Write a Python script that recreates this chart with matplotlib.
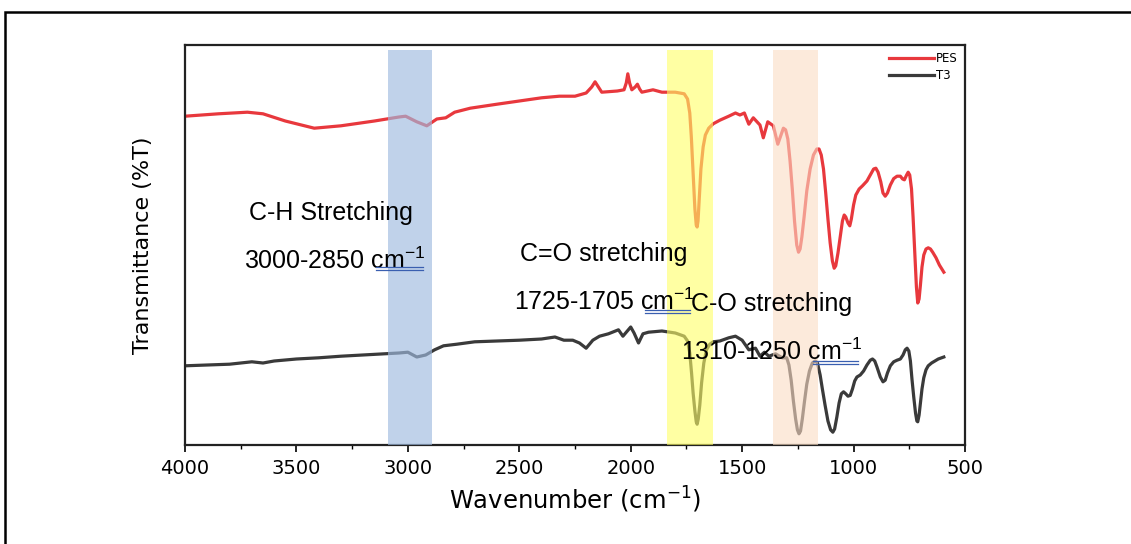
import matplotlib
matplotlib.use("Agg")
import matplotlib.pyplot as plt
from matplotlib.lines import Line2D
from matplotlib.patches import Rectangle

plt.rcParams['mathtext.default'] = 'regular'
ANN = ['Liberation Sans', 'DejaVu Sans']

# ---- data (wavenumber cm-1, transmittance a.u.) ----
pes_w = [4000, 3850, 3720, 3650, 3550, 3420, 3300, 3150, 3040, 3010, 2960, 2915, 2870, 2830, 2790,
         2720, 2600, 2500, 2400, 2320, 2250, 2200, 2175, 2160, 2145, 2130, 2060, 2030, 2020, 2013,
         2005, 1995, 1980, 1970, 1960, 1950, 1900, 1860, 1800, 1760, 1745, 1735, 1728, 1720, 1712,
         1706, 1702, 1698, 1692, 1685, 1675, 1665, 1650, 1630, 1600, 1560, 1530, 1510, 1490, 1470,
         1450, 1420, 1405, 1385, 1360, 1340, 1315, 1305, 1295, 1285, 1275, 1265, 1255, 1247, 1240,
         1232, 1222, 1210, 1195, 1180, 1165, 1155, 1145, 1135, 1125, 1115, 1105, 1095, 1087, 1080,
         1070, 1060, 1050, 1042, 1035, 1025, 1017, 1010, 1000, 990, 975, 960, 940, 925, 910,
         900, 890, 878, 868, 858, 848, 835, 820, 805, 790, 780, 772, 762, 755, 748,
         740, 733, 725, 718, 712, 706, 700, 693, 685, 675, 665, 655, 645, 630, 615, 595]
pes_t = [82.2, 82.8, 83.2, 82.8, 81.0, 79.2, 79.8, 81.0, 82.0, 82.2, 80.8, 79.8, 81.5, 81.8, 83.2,
         84.2, 85.2, 86.0, 86.8, 87.2, 87.2, 88.0, 89.5, 90.8, 89.5, 88.2, 88.5, 88.8, 90.5, 92.8,
         90.5, 88.8, 89.5, 90.2, 89.0, 88.2, 88.8, 88.2, 88.2, 87.8, 86.5, 83.0, 77.0, 68.0, 59.0,
         55.0, 54.5, 56.0, 62.0, 69.0, 74.5, 77.5, 79.2, 80.3, 81.2, 82.2, 83.0, 82.5, 83.0, 80.2,
         81.8, 80.0, 76.8, 80.8, 79.8, 75.2, 79.2, 78.8, 76.5, 71.0, 64.0, 56.0, 50.0, 48.2, 49.0,
         52.0, 57.0, 63.5, 69.0, 72.5, 74.0, 74.0, 72.5, 69.0, 63.0, 56.5, 50.5, 46.0, 44.2, 44.8,
         48.0, 52.0, 56.0, 57.5, 57.0, 55.5, 54.8, 56.5, 60.0, 62.5, 64.0, 64.8, 66.0, 67.5, 69.0,
         69.2, 68.2, 65.8, 63.0, 62.2, 63.0, 65.0, 66.6, 67.2, 67.2, 66.5, 66.3, 67.5, 68.2, 67.5,
         64.0, 57.0, 47.5, 39.5, 35.5, 36.5, 40.0, 44.5, 47.5, 49.0, 49.3, 49.0, 48.2, 46.8, 45.0, 43.2]

t3_w = [4000, 3900, 3800, 3700, 3650, 3600, 3500, 3400, 3300, 3200, 3100, 3040, 3000, 2960, 2920,
        2880, 2840, 2780, 2700, 2600, 2500, 2400, 2340, 2300, 2260, 2230, 2200, 2170, 2140, 2100,
        2055, 2035, 2000, 1985, 1965, 1945, 1920, 1860, 1800, 1760, 1745, 1735, 1727, 1720, 1712,
        1706, 1702, 1697, 1690, 1682, 1672, 1660, 1645, 1630, 1600, 1560, 1530, 1500, 1470, 1440,
        1420, 1400, 1380, 1350, 1320, 1300, 1290, 1280, 1270, 1260, 1252, 1245, 1238, 1230, 1220,
        1210, 1198, 1185, 1172, 1162, 1150, 1140, 1128, 1115, 1103, 1093, 1085, 1075, 1065, 1055,
        1045, 1035, 1025, 1015, 1005, 995, 985, 970, 955, 940, 925, 915, 905, 895, 880,
        868, 858, 848, 835, 820, 805, 790, 778, 768, 760, 752, 745, 738, 730, 722,
        716, 712, 706, 700, 693, 685, 675, 665, 650, 635, 620, 605, 595]
t3_t = [19.8, 20.0, 20.2, 20.8, 20.5, 21.0, 21.5, 21.8, 22.2, 22.5, 22.8, 23.0, 23.2, 22.0, 22.5,
        23.8, 24.8, 25.2, 25.8, 26.0, 26.2, 26.5, 27.0, 26.2, 26.2, 25.5, 24.2, 26.2, 27.2, 27.8,
        28.8, 27.2, 29.5, 28.0, 25.5, 27.8, 28.2, 28.5, 28.0, 27.2, 26.0, 23.0, 18.0, 13.0, 8.5,
        5.8, 5.2, 6.5, 10.0, 15.5, 20.5, 23.8, 25.2, 25.8, 26.0, 26.8, 27.2, 26.2, 23.8, 24.2,
        22.2, 23.2, 22.2, 22.8, 21.8, 21.8, 20.0, 16.2, 11.0, 6.5, 3.8, 2.8, 3.5, 6.5, 11.0,
        15.2, 18.5, 20.5, 21.0, 20.5, 17.5, 14.0, 10.0, 6.0, 3.8, 3.2, 4.0, 7.0, 10.5, 12.8,
        13.3, 12.8, 12.2, 12.4, 14.0, 16.0, 17.0, 17.5, 18.5, 20.0, 21.2, 21.5, 21.0, 19.5, 17.0,
        15.8, 16.2, 18.0, 19.8, 20.8, 21.2, 21.5, 22.5, 23.8, 24.2, 23.5, 21.0, 16.5, 12.0, 8.0,
        6.0, 5.8, 7.5, 10.5, 14.0, 16.8, 18.8, 19.8, 20.5, 21.0, 21.5, 21.8, 22.0]

series_names = ['PES', 'T3']
x_ticks = [4000, 3500, 3000, 2500, 2000, 1500, 1000, 500]
x_minor = [3750, 3250, 2750, 2250, 1750, 1250, 750]
bands = [(3090, 2890), (1835, 1630), (1360, 1160)]

fig = plt.figure(figsize=(11.31, 5.44), dpi=100)
# outer frame
fig.add_artist(Rectangle((5/1131, -0.05), 1.2, 1 - 12/544 + 0.05, transform=fig.transFigure,
                         fill=False, edgecolor='black', linewidth=1.8))

ax = fig.add_axes([185/1131, 1 - 445/544, 780/1131, 400/544])
ax.plot(pes_w, pes_t, color='#e8383d', lw=2.3, label=series_names[0], zorder=2,
        solid_joinstyle='round')
ax.plot(t3_w, t3_t, color='#3a3a3a', lw=2.3, label=series_names[1], zorder=2,
        solid_joinstyle='round')

band_colors = ['#9fbbe0', '#ffff66', '#fbdcc4']
band_alpha = [0.65, 0.6, 0.6]
for (a, b), c, al in zip(bands, band_colors, band_alpha):
    ax.axvspan(a, b, ymin=0, ymax=0.9875, color=c, alpha=al, lw=0, zorder=3)

ax.set_xlim(4000, 500)
ax.set_ylim(0, 100)
ax.set_xticks(x_ticks)
ax.set_xticks(x_minor, minor=True)
ax.set_yticks([])
ax.tick_params(axis='x', which='major', direction='out', length=5, width=1.2, labelsize=14, pad=5)
ax.tick_params(axis='x', which='minor', direction='out', length=3, width=1.0)
for s in ax.spines.values():
    s.set_linewidth(1.6)
    s.set_color('#222222')

ax.set_xlabel('Wavenumber (cm$^{-1}$)', fontsize=17.5, labelpad=5)
ax.set_ylabel('Transmittance (%T)', fontsize=16, labelpad=23)

ax.legend(loc='upper right', frameon=False, fontsize=8.5, handlelength=3.8,
          borderaxespad=0.2, labelspacing=0.35, handletextpad=0.2)

txt = dict(fontsize=18, family=ANN, ha='center', va='center', zorder=5)
ax.text(3345, 58, 'C-H Stretching', **txt)
ax.text(3327, 46, '3000-2850 cm$^{-1}$', **txt)
ax.text(2120, 47.8, 'C=O stretching', **txt)
ax.text(2120, 35.8, '1725-1705 cm$^{-1}$', **txt)
ax.text(1366, 35.2, 'C-O stretching', **txt)
ax.text(1366, 23.2, '1310-1250 cm$^{-1}$', **txt)

underlines = [(3143, 2932, 44.5), (1936, 1734, 33.75), (1182, 980, 21.0)]
for a, b, y in underlines:
    ax.add_line(Line2D([a, b], [y, y], color='#3a5fb0', lw=0.9, zorder=6))
    ax.add_line(Line2D([a, b], [y - 0.75, y - 0.75], color='#3a5fb0', lw=0.9, zorder=6))

fig.savefig('out.png', dpi=100)
